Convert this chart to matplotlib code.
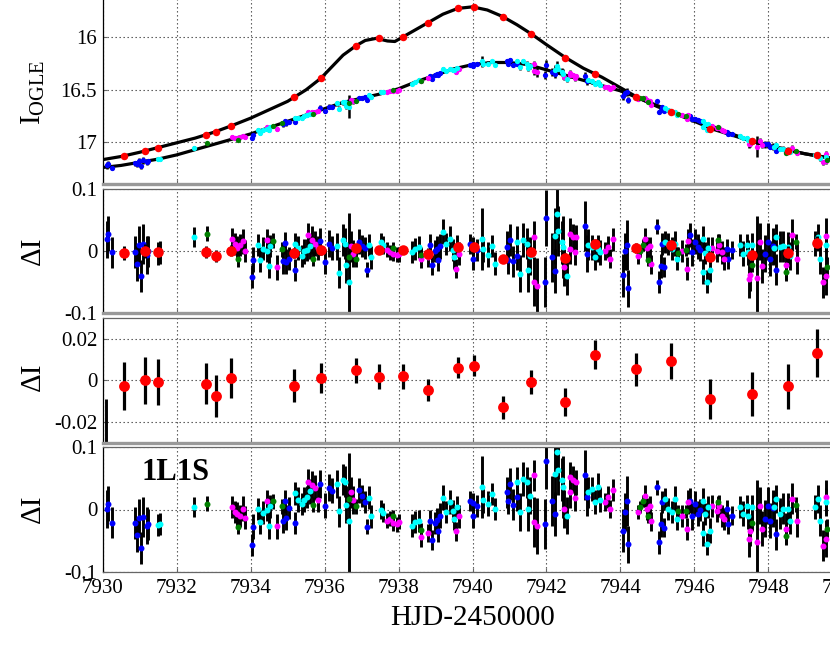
import matplotlib
matplotlib.use("Agg")
import matplotlib.pyplot as plt

plt.rcParams["font.family"] = ["Liberation Serif", "DejaVu Serif"]
plt.rcParams["mathtext.fontset"] = "custom"
plt.rcParams["mathtext.rm"] = "Liberation Serif"

# model light curves (top panel)
lower_t = [7930.0, 7930.5, 7931.0, 7931.5, 7932.0, 7932.5, 7933.0, 7933.5, 7934.0, 7934.5,
           7935.0, 7935.5, 7936.0, 7936.5, 7937.0, 7937.5, 7938.0, 7938.5, 7939.0, 7939.5,
           7940.0, 7940.5, 7941.0, 7941.5, 7942.0, 7942.5, 7943.0, 7943.5, 7944.0, 7944.5,
           7945.0, 7945.5, 7946.0, 7946.5, 7947.0, 7947.5, 7948.0, 7948.5, 7949.0, 7949.5, 7950.0]
lower_mag = [17.24, 17.22, 17.19, 17.16, 17.12, 17.07, 17.02, 16.97, 16.92, 16.86,
             16.80, 16.74, 16.68, 16.62, 16.58, 16.54, 16.49, 16.42, 16.36, 16.30,
             16.26, 16.24, 16.24, 16.26, 16.31, 16.36, 16.41, 16.46, 16.51, 16.58,
             16.65, 16.72, 16.79, 16.85, 16.92, 16.98, 17.03, 17.07, 17.11, 17.14, 17.17]

upper_t = [7930.0, 7930.5, 7931.0, 7931.5, 7932.0, 7932.5, 7933.0, 7933.5, 7934.0, 7934.5,
           7935.0, 7935.5, 7935.9, 7936.2, 7936.5, 7936.85, 7937.1, 7937.4, 7937.7, 7937.9,
           7938.1, 7938.4, 7938.8, 7939.2, 7939.6, 7940.0, 7940.4, 7940.8, 7941.2, 7941.6,
           7942.0, 7942.5, 7943.0, 7943.5, 7944.0, 7944.5, 7945.0, 7945.5, 7946.0, 7946.5,
           7947.0, 7947.5, 7948.0, 7948.5, 7949.0, 7949.5, 7950.0]
upper_mag = [17.165, 17.135, 17.095, 17.05, 17.005, 16.96, 16.905, 16.84, 16.77, 16.69,
             16.61, 16.50, 16.39, 16.28, 16.17, 16.08, 16.03, 16.01, 16.035, 16.04,
             16.00, 15.94, 15.86, 15.78, 15.725, 15.71, 15.74, 15.80, 15.88, 15.97,
             16.07, 16.19, 16.295, 16.38, 16.48, 16.58, 16.66, 16.73, 16.80, 16.875,
             16.93, 16.985, 17.035, 17.075, 17.11, 17.14, 17.17]

# red data set
red_t = [7930.57, 7931.15, 7931.50, 7932.80, 7933.07, 7933.48, 7935.18, 7935.90, 7936.85, 7937.46,
         7938.11, 7938.81, 7939.60, 7940.04, 7940.83, 7941.59, 7942.51, 7943.32, 7944.43, 7945.36,
         7946.41, 7947.55, 7948.54, 7949.32]
red_mag = [17.13, 17.08, 17.05, 16.93, 16.90, 16.84, 16.57, 16.39, 16.08, 16.01,
           16.00, 15.86, 15.72, 15.71, 15.81, 15.97, 16.20, 16.35, 16.57, 16.71,
           16.87, 16.99, 17.08, 17.12]
red_res = [-0.0026, 0.0, -0.0008, -0.0016, -0.0074, 0.001, -0.0026, 0.0012, 0.0048, 0.0017,
           0.0019, -0.0045, 0.006, 0.007, -0.013, -0.0008, -0.0103, 0.0123, 0.0053, 0.0093,
           -0.0091, -0.0067, -0.0029, 0.0131]
red_err = [0.0115, 0.0112, 0.011, 0.0099, 0.010, 0.0096, 0.008, 0.0073, 0.006, 0.006,
           0.006, 0.0054, 0.005, 0.005, 0.0054, 0.0057, 0.0066, 0.007, 0.008, 0.0088,
           0.0096, 0.0106, 0.011, 0.0115]
extra_t = [7930.08]
extra_res = [-0.06]
extra_err = [0.051]

# ground data sets: time, magnitude, residual (binary), residual (1L1S), error
blue_t = [7930.11, 7930.15, 7930.24, 7930.87, 7930.94, 7930.99, 7931.03, 7931.08, 7931.19, 7931.23,
          7934.03, 7934.07, 7934.88, 7934.93, 7934.97, 7935.05, 7935.20, 7935.88, 7936.01, 7936.12,
          7936.20, 7936.92, 7937.00, 7937.10, 7937.14, 7938.85, 7938.90, 7938.99, 7939.03, 7939.08,
          7939.12, 7939.93, 7940.00, 7940.02, 7940.11, 7940.92, 7940.97, 7941.01, 7941.10, 7941.19,
          7941.96, 7942.00, 7942.14, 7942.23, 7943.04, 7943.09, 7944.08, 7944.12, 7944.17, 7944.21,
          7945.00, 7945.05, 7945.09, 7945.13, 7945.18, 7945.88, 7945.93, 7946.02, 7946.11, 7946.15,
          7946.87, 7946.92, 7947.01, 7947.91, 7948.00, 7948.04, 7948.13, 7948.21]
blue_mag = [17.22, 17.21, 17.24, 17.20, 17.21, 17.18, 17.23, 17.17, 17.19, 17.18,
            16.96, 16.93, 16.83, 16.80, 16.82, 16.81, 16.81, 16.67, 16.70, 16.66,
            16.66, 16.58, 16.58, 16.57, 16.60, 16.37, 16.40, 16.36, 16.35, 16.36,
            16.34, 16.26, 16.27, 16.25, 16.25, 16.23, 16.25, 16.22, 16.26, 16.25,
            16.36, 16.26, 16.33, 16.35, 16.37, 16.42, 16.56, 16.53, 16.52, 16.60,
            16.61, 16.71, 16.69, 16.66, 16.70, 16.75, 16.78, 16.78, 16.79, 16.80,
            16.90, 16.92, 16.92, 17.02, 17.02, 17.04, 17.04, 17.08]
blue_res = [0.019, 0.028, -0.002, -0.001, -0.020, 0.010, -0.040, 0.012, -0.006, 0.000,
            -0.041, -0.014, -0.016, 0.013, -0.017, -0.012, -0.030, 0.016, -0.017, 0.012,
            0.005, 0.015, 0.008, 0.005, -0.030, 0.010, -0.022, 0.000, 0.004, -0.014,
            0.008, 0.012, -0.012, 0.006, 0.002, 0.007, -0.014, 0.018, -0.016, -0.008,
            -0.050, 0.053, -0.010, -0.032, 0.040, -0.004, -0.039, 0.000, 0.010, -0.060,
            0.039, -0.050, -0.024, 0.012, -0.025, 0.026, -0.002, 0.015, 0.007, 0.002,
            0.004, -0.012, 0.002, -0.004, 0.015, -0.012, 0.008, -0.030]
blue_res1 = [0.001, 0.009, -0.021, -0.022, -0.041, -0.013, -0.062, -0.012, -0.026, -0.024,
             -0.057, -0.028, -0.018, 0.013, -0.013, 0.002, -0.022, 0.041, 0.006, 0.035,
             0.030, 0.031, 0.022, 0.012, -0.028, -0.018, -0.049, -0.022, -0.017, -0.035,
             -0.010, 0.013, -0.011, 0.010, 0.006, 0.028, 0.014, 0.041, 0.008, 0.020,
             -0.023, 0.078, 0.014, -0.007, 0.056, 0.020, -0.034, -0.004, 0.014, -0.056,
             0.036, -0.053, -0.024, 0.012, -0.029, 0.014, -0.011, 0.009, -0.007, -0.001,
             0.001, -0.024, -0.010, -0.015, 0.006, -0.018, 0.002, -0.040]
blue_err = [0.030, 0.028, 0.025, 0.026, 0.028, 0.030, 0.026, 0.032, 0.030, 0.025,
            0.018, 0.020, 0.020, 0.018, 0.020, 0.018, 0.018, 0.022, 0.020, 0.022,
            0.020, 0.020, 0.018, 0.018, 0.012, 0.018, 0.016, 0.018, 0.020, 0.018,
            0.020, 0.016, 0.018, 0.016, 0.018, 0.025, 0.022, 0.025, 0.025, 0.022,
            0.040, 0.045, 0.040, 0.035, 0.040, 0.030, 0.035, 0.030, 0.040, 0.030,
            0.012, 0.018, 0.020, 0.018, 0.016, 0.020, 0.022, 0.020, 0.020, 0.018,
            0.015, 0.016, 0.015, 0.030, 0.030, 0.028, 0.030, 0.025]

cyan_t = [7931.50, 7931.55, 7932.48, 7934.21, 7934.25, 7934.34, 7934.43, 7934.49, 7934.52, 7935.20,
          7935.29, 7935.38, 7935.44, 7935.52, 7935.60, 7936.34, 7936.39, 7936.50, 7936.55, 7936.57,
          7936.66, 7937.20, 7937.25, 7937.52, 7937.59, 7938.36, 7938.45, 7938.54, 7939.21, 7939.28,
          7939.39, 7939.46, 7939.51, 7939.57, 7940.25, 7940.29, 7940.43, 7940.52, 7940.61, 7941.19,
          7941.28, 7941.37, 7941.48, 7941.51, 7941.55, 7942.23, 7942.28, 7942.32, 7942.41, 7942.46,
          7942.55, 7943.13, 7943.22, 7943.31, 7943.40, 7943.45, 7945.21, 7945.30, 7945.39, 7945.48,
          7945.52, 7946.22, 7946.24, 7946.28, 7946.33, 7946.37, 7946.42, 7947.23, 7947.32, 7947.41,
          7947.45, 7947.56, 7948.15, 7948.22, 7948.31, 7948.40, 7948.54, 7948.58, 7949.26, 7949.35,
          7949.40, 7949.56]
cyan_mag = [17.16, 17.16, 17.05, 16.88, 16.91, 16.88, 16.87, 16.88, 16.85, 16.77,
            16.77, 16.77, 16.75, 16.74, 16.73, 16.63, 16.68, 16.62, 16.62, 16.65,
            16.66, 16.55, 16.57, 16.52, 16.52, 16.44, 16.43, 16.41, 16.30, 16.32,
            16.30, 16.31, 16.31, 16.29, 16.23, 16.25, 16.25, 16.23, 16.26, 16.23,
            16.28, 16.23, 16.25, 16.29, 16.27, 16.31, 16.27, 16.30, 16.33, 16.35,
            16.40, 16.41, 16.42, 16.44, 16.43, 16.45, 16.67, 16.69, 16.71, 16.71,
            16.74, 16.85, 16.80, 16.83, 16.88, 16.83, 16.87, 16.94, 16.96, 16.96,
            16.98, 16.98, 17.04, 17.03, 17.06, 17.06, 17.07, 17.09, 17.12, 17.11,
            17.15, 17.14]
cyan_res = [-0.004, -0.002, 0.023, 0.010, -0.014, 0.004, 0.000, -0.024, 0.008, 0.012,
            0.005, -0.008, 0.000, 0.002, 0.008, 0.008, -0.035, 0.018, 0.012, -0.022,
            -0.049, 0.010, -0.010, 0.015, 0.010, -0.001, 0.003, 0.007, 0.031, 0.012,
            0.020, 0.002, -0.010, 0.008, 0.020, 0.003, -0.006, 0.008, -0.020, 0.015,
            -0.036, 0.018, 0.012, -0.031, -0.008, 0.025, 0.060, 0.033, 0.014, 0.007,
            -0.040, 0.010, 0.006, -0.010, 0.004, -0.002, 0.015, 0.012, 0.004, 0.012,
            -0.012, -0.033, 0.020, -0.003, -0.049, 0.005, -0.030, 0.010, -0.004, 0.010,
            -0.002, 0.010, 0.005, 0.022, 0.007, 0.008, 0.006, -0.008, 0.012, 0.022,
            -0.012, 0.010]
cyan_res1 = [-0.025, -0.023, 0.004, 0.001, -0.020, -0.005, 0.000, -0.027, 0.005, 0.026,
             0.016, 0.009, 0.016, 0.020, 0.029, 0.041, -0.003, 0.048, 0.045, 0.008,
             -0.019, 0.019, -0.011, 0.000, -0.005, -0.026, -0.020, -0.018, 0.019, -0.004,
             0.012, -0.002, -0.015, 0.004, 0.036, 0.015, 0.009, 0.025, 0.001, 0.044,
             -0.004, 0.049, 0.044, 0.001, 0.022, 0.057, 0.092, 0.063, 0.048, 0.036,
             -0.010, 0.028, 0.033, 0.012, 0.036, 0.016, 0.017, 0.001, -0.004, 0.017,
             -0.015, -0.038, 0.014, -0.007, -0.055, 0.004, -0.034, 0.004, -0.007, 0.006,
             -0.011, 0.004, 0.004, 0.017, -0.007, 0.001, 0.001, -0.018, 0.004, 0.017,
             -0.018, 0.012]
cyan_err = [0.018, 0.018, 0.016, 0.018, 0.020, 0.018, 0.018, 0.020, 0.018, 0.018,
            0.020, 0.018, 0.020, 0.018, 0.020, 0.022, 0.025, 0.025, 0.025, 0.030,
            0.110, 0.018, 0.018, 0.015, 0.015, 0.018, 0.018, 0.018, 0.020, 0.018,
            0.020, 0.018, 0.018, 0.018, 0.050, 0.020, 0.020, 0.018, 0.018, 0.025,
            0.030, 0.028, 0.025, 0.035, 0.030, 0.045, 0.040, 0.040, 0.035, 0.050,
            0.030, 0.025, 0.020, 0.020, 0.022, 0.020, 0.018, 0.018, 0.018, 0.020,
            0.018, 0.020, 0.020, 0.018, 0.018, 0.018, 0.020, 0.018, 0.020, 0.018,
            0.020, 0.020, 0.025, 0.022, 0.025, 0.025, 0.025, 0.022, 0.020, 0.022,
            0.025, 0.022]

magenta_t = [7933.49, 7933.58, 7933.64, 7933.71, 7933.80, 7933.84, 7934.45, 7934.70, 7935.56, 7935.65,
             7935.74, 7935.83, 7936.72, 7936.77, 7937.68, 7937.77, 7937.86, 7937.95, 7938.01, 7938.60,
             7938.81, 7939.55, 7939.64, 7941.65, 7941.66, 7941.74, 7942.48, 7942.63, 7942.65, 7942.72,
             7942.77, 7942.81, 7943.58, 7943.67, 7943.72, 7943.81, 7944.47, 7944.66, 7944.71, 7944.80,
             7944.83, 7945.66, 7945.79, 7945.84, 7946.47, 7946.60, 7946.67, 7946.74, 7946.79, 7947.48,
             7947.50, 7947.68, 7947.77, 7947.82, 7948.48, 7948.64, 7948.78, 7949.48, 7949.55, 7949.57]
magenta_mag = [16.95, 16.96, 16.96, 16.95, 16.94, 16.95, 16.85, 16.87, 16.71, 16.71,
               16.71, 16.70, 16.60, 16.61, 16.52, 16.51, 16.51, 16.51, 16.50, 16.42,
               16.39, 16.33, 16.30, 16.25, 16.32, 16.33, 16.38, 16.34, 16.36, 16.36,
               16.39, 16.37, 16.47, 16.47, 16.49, 16.47, 16.59, 16.58, 16.60, 16.61,
               16.64, 16.74, 16.78, 16.74, 16.84, 16.86, 16.86, 16.88, 16.89, 17.02,
               17.02, 17.04, 16.99, 17.03, 17.09, 17.05, 17.10, 17.19, 17.11, 17.18]
magenta_res = [0.020, 0.012, 0.005, 0.010, 0.016, 0.000, 0.018, -0.026, 0.026, 0.018,
               0.012, 0.005, 0.008, -0.004, 0.002, -0.002, -0.004, -0.006, -0.005, -0.012,
               -0.010, -0.028, -0.004, 0.023, -0.049, -0.056, -0.026, 0.028, 0.004, 0.022,
               -0.001, 0.022, 0.000, 0.007, -0.012, 0.019, -0.008, 0.020, 0.005, 0.008,
               -0.021, 0.000, -0.028, 0.016, 0.005, 0.000, 0.010, -0.002, -0.012, -0.045,
               -0.039, -0.044, 0.015, -0.024, -0.022, 0.026, -0.012, -0.050, 0.025, -0.040]
magenta_res1 = [0.004, -0.004, -0.008, -0.010, 0.001, -0.013, 0.014, -0.027, 0.045, 0.040,
                0.035, 0.016, 0.028, 0.015, -0.018, -0.015, -0.022, -0.024, -0.020, -0.045,
                -0.038, -0.035, -0.011, 0.055, -0.020, -0.026, 0.001, 0.052, 0.028, 0.048,
                0.019, 0.044, 0.012, 0.020, 0.001, 0.031, -0.004, 0.022, 0.001, 0.006,
                -0.019, -0.010, -0.031, 0.012, 0.006, -0.002, 0.006, -0.010, -0.015, -0.047,
                -0.034, -0.052, 0.006, -0.031, -0.031, 0.017, -0.019, -0.058, 0.020, -0.047]
magenta_err = [0.018, 0.018, 0.020, 0.018, 0.020, 0.018, 0.018, 0.020, 0.020, 0.022,
               0.020, 0.020, 0.025, 0.022, 0.012, 0.012, 0.012, 0.012, 0.012, 0.015,
               0.015, 0.015, 0.018, 0.025, 0.040, 0.045, 0.030, 0.025, 0.025, 0.022,
               0.022, 0.020, 0.015, 0.018, 0.015, 0.018, 0.012, 0.018, 0.018, 0.015,
               0.015, 0.018, 0.018, 0.020, 0.018, 0.018, 0.018, 0.018, 0.018, 0.030,
               0.025, 0.100, 0.030, 0.028, 0.025, 0.025, 0.025, 0.025, 0.028, 0.030]

green_t = [7932.81, 7933.67, 7934.60, 7934.86, 7935.70, 7936.66, 7936.85, 7937.86, 7938.60, 7944.53,
           7944.60, 7944.75, 7945.55, 7945.77, 7946.65, 7947.55, 7948.48, 7948.75, 7949.58]
green_mag = [17.01, 16.98, 16.84, 16.82, 16.73, 16.63, 16.61, 16.50, 16.42, 16.58,
             16.58, 16.62, 16.73, 16.75, 16.85, 17.00, 17.10, 17.08, 17.17]
green_res = [0.028, -0.013, 0.017, 0.003, -0.012, -0.010, -0.013, 0.005, -0.006, 0.000,
             0.010, -0.014, -0.003, 0.002, 0.018, -0.022, -0.033, 0.015, -0.025]
green_res1 = [0.009, -0.028, 0.013, 0.005, 0.008, 0.017, 0.005, -0.011, -0.033, 0.004,
              0.014, -0.011, -0.003, -0.003, 0.012, -0.022, -0.042, 0.008, -0.031]
green_err = [0.012, 0.012, 0.012, 0.012, 0.012, 0.012, 0.012, 0.010, 0.012, 0.010,
             0.010, 0.010, 0.010, 0.010, 0.010, 0.012, 0.015, 0.012, 0.015]

XTICKS = [7930, 7932, 7934, 7936, 7938, 7940, 7942, 7944, 7946, 7948, 7950]

FIG_W, FIG_H = 830, 658
LEFT_PX, RIGHT_PX = 102.7, 842.3

GROUND = [
    ("#0000ff", blue_t, blue_mag, blue_res, blue_res1, blue_err),
    ("#ff00ff", magenta_t, magenta_mag, magenta_res, magenta_res1, magenta_err),
    ("#00ffff", cyan_t, cyan_mag, cyan_res, cyan_res1, cyan_err),
    ("#007f00", green_t, green_mag, green_res, green_res1, green_err),
]


def add_axes(fig, top, bottom):
    return fig.add_axes([LEFT_PX / FIG_W, 1 - bottom / FIG_H,
                         (RIGHT_PX - LEFT_PX) / FIG_W, (bottom - top) / FIG_H])


def style(ax, yticks, ylabels, thick_bottom=True):
    ax.set_xlim(7930, 7950)
    ax.set_xticks(XTICKS)
    ax.set_yticks(yticks)
    ax.set_yticklabels(ylabels)
    ax.grid(True, linestyle=(0, (1.2, 2.4)), color="#444444", linewidth=0.8)
    ax.set_axisbelow(True)
    ax.tick_params(direction="in", length=3, labelsize=15, pad=4, color="#666666")
    for s in ax.spines.values():
        s.set_color("#666666")
        s.set_linewidth(0.9)
    ax.spines["left"].set_color("black")
    if thick_bottom:
        ax.spines["bottom"].set_color("#999999")
        ax.spines["bottom"].set_linewidth(2.4)
        ax.tick_params(labelbottom=False)


def residual_panel(ax, which):
    for color, t, mag, res, res1, err in GROUND:
        vals = res if which == 0 else res1
        ax.errorbar(t, vals, yerr=err, fmt="none", ecolor="black", elinewidth=2.1,
                    capsize=0, zorder=2)
    for color, t, mag, res, res1, err in GROUND:
        vals = res if which == 0 else res1
        ax.plot(t, vals, "o", color=color, ms=4.3, mew=0, zorder=3)


fig = plt.figure(figsize=(FIG_W / 100, FIG_H / 100), dpi=100)

# top: light curves
ax1 = add_axes(fig, -10, 184.3)
ax1.plot(upper_t, upper_mag, color="black", lw=2.3, zorder=2)
ax1.plot(lower_t, lower_mag, color="black", lw=2.3, zorder=2)
for color, t, mag, res, res1, err in GROUND:
    ax1.errorbar(t, mag, yerr=err, fmt="none", ecolor="black", elinewidth=1.8,
                 capsize=0, zorder=2)
for color, t, mag, res, res1, err in GROUND:
    ax1.plot(t, mag, "o", color=color, ms=3.8, mew=0, zorder=3)
ax1.plot(red_t, red_mag, "o", color="#ff0000", ms=5.4, mew=0, zorder=4)
ax1.set_ylim(17.4, 16 - 47.3 / 105)
style(ax1, [16, 16.5, 17], ["16", "16.5", "17"])

# residuals from the binary model
ax2 = add_axes(fig, 189, 313.3)
residual_panel(ax2, 0)
ax2.errorbar(red_t, red_res, yerr=red_err, fmt="none", ecolor="black", elinewidth=2.1,
             capsize=0, zorder=3)
ax2.plot(red_t, red_res, "o", color="#ff0000", ms=7.6, mew=0, zorder=4)
ax2.set_ylim(-0.1, 0.1)
style(ax2, [-0.1, 0, 0.1], ["-0.1", "0", "0.1"])

# red residuals, zoomed
ax3 = add_axes(fig, 318.3, 443.3)
ax3.errorbar(extra_t, extra_res, yerr=extra_err, fmt="none", ecolor="black",
             elinewidth=2.1, capsize=0, zorder=2)
ax3.errorbar(red_t, red_res, yerr=red_err, fmt="none", ecolor="black", elinewidth=2.3,
             capsize=0, zorder=2)
ax3.plot(red_t, red_res, "o", color="#ff0000", ms=7.8, mew=0, zorder=3)
ax3.set_ylim(-0.0302, 0.0298)
style(ax3, [-0.02, 0, 0.02], ["-0.02", "0", "0.02"])

# residuals from the 1L1S model
ax4 = add_axes(fig, 447.3, 571.7)
residual_panel(ax4, 1)
ax4.set_ylim(-0.1, 0.1)
style(ax4, [-0.1, 0, 0.1], ["-0.1", "0", "0.1"], thick_bottom=False)
ax4.set_xticklabels([str(x) for x in XTICKS])
ax4.tick_params(axis="x", pad=5)
ax4.text(0.053, 0.737, "1L1S", transform=ax4.transAxes, fontsize=22,
         fontweight="bold", va="baseline", ha="left")

fig.text(33 / FIG_W, 1 - 92 / FIG_H, r"$\mathrm{I_{OGLE}}$", rotation=90,
         fontsize=21, ha="center", va="center")
for yc in (251, 377, 509):
    fig.text(33 / FIG_W, 1 - yc / FIG_H, "ΔI", rotation=90, fontsize=21,
             ha="center", va="center")
fig.text(472.5 / FIG_W, 1 - 618 / FIG_H, "HJD-2450000", fontsize=21,
         ha="center", va="center")

fig.savefig("out.png", dpi=100)
